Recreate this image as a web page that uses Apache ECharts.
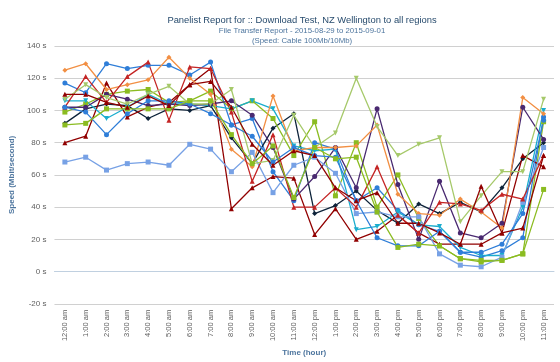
<!DOCTYPE html>
<html><head><meta charset="utf-8">
<script src="https://cdn.jsdelivr.net/npm/echarts@6/dist/echarts.min.js"></script>
<style>html,body{margin:0;padding:0;background:#fff}#c{width:560px;height:362px}</style>
</head><body><div id="c"></div>
<script>
var categories = ['12:00 am','1:00 am','2:00 am','3:00 am','4:00 am','5:00 am','6:00 am','7:00 am','8:00 am','9:00 am','10:00 am','11:00 am','12:00 pm','1:00 pm','2:00 pm','3:00 pm','4:00 pm','5:00 pm','6:00 pm','7:00 pm','8:00 pm','9:00 pm','10:00 pm','11:00 pm'];
var blueA      = [117,111,129,126,128,128,122,130,91,95,62,44,80,76,44,52,38,29,25,12,9,13,21,96];
var blackA     = [92,101,104,103,95,101,100,103,83,67,89,98,36,41,50,38,30,42,36,43,37,52,70,80];
var greenA     = [99,104,110,112,113,105,106,112,101,106,95,72,93,47,80,40,60,33,16,8,7,7,11,93];
var darkRedA   = [80,84,117,96,102,105,116,126,39,52,59,58,23,39,20,25,35,24,17,17,17,24,72,65];
var cyan       = [106,106,95,102,110,104,104,103,101,106,101,78,75,76,26,28,37,29,28,15,10,10,40,100];
var purple     = [102,102,110,107,103,104,103,104,106,97,77,45,59,77,52,101,54,20,56,24,21,30,102,82];
var orange     = [125,129,113,116,119,133,120,110,76,65,109,75,77,77,78,91,48,36,35,45,37,27,108,98];
var lightBlue  = [68,71,63,67,68,66,79,76,62,74,49,66,71,61,36,37,34,34,11,4,3,9,43,77];
var red        = [102,121,105,121,130,94,127,126,99,56,85,40,40,52,40,65,35,24,43,42,38,48,45,72];
var lightGreen = [107,116,108,104,110,115,104,104,113,67,69,97,77,86,120,90,72,79,83,31,47,62,62,107];
var blueB      = [102,99,85,98,106,106,104,98,91,84,68,77,72,71,44,21,16,16,25,12,12,17,36,94];
var greenB     = [91,92,101,101,101,101,106,106,85,67,78,46,77,70,71,37,15,17,16,8,6,7,11,51];
var darkRedB   = [110,110,105,102,109,103,116,118,102,79,66,75,72,52,44,49,30,30,24,17,53,24,27,72];
var yTicks = {min:-20, max:140, interval:20};

var defs = [
  ['blueA', blueA, '#2f7ed8', 'circle', 0],
  ['blackA', blackA, '#0d233a', 'diamond', 0],
  ['greenA', greenA, '#8bbc21', 'rect', 0],
  ['darkRedA', darkRedA, '#910000', 'triangle', 0],
  ['cyan', cyan, '#1aadce', 'triangle', 180],
  ['purple', purple, '#492970', 'circle', 0],
  ['orange', orange, '#f28f43', 'diamond', 0],
  ['lightBlue', lightBlue, '#77a1e5', 'rect', 0],
  ['red', red, '#c42525', 'triangle', 0],
  ['lightGreen', lightGreen, '#a6c96a', 'triangle', 180],
  ['blueB', blueB, '#2f7ed8', 'circle', 0],
  ['greenB', greenB, '#8bbc21', 'rect', 0],
  ['darkRedB', darkRedB, '#910000', 'triangle', 0]
];
var series = defs.map(function(d){
  return {name:d[0], type:'line', data:d[1], symbol:d[3], symbolRotate:d[4], symbolSize:5,
    showAllSymbol:true, animation:false,
    itemStyle:{color:d[2]}, lineStyle:{color:d[2], width:1.3}};
});
var chart = echarts.init(document.getElementById('c'));
chart.setOption({
  animation:false,
  title:{
    text:'Panelist Report for :: Download Test, NZ Wellington to all regions',
    subtext:'File Transfer Report - 2015-08-29 to 2015-09-01\n(Speed: Cable 100Mb/10Mb)',
    left:297, textAlign:'center', top:11, itemGap:1,
    textStyle:{fontFamily:'Liberation Sans', fontSize:9.4, fontWeight:'normal', color:'#274b6d'},
    subtextStyle:{fontFamily:'Liberation Sans', fontSize:7.8, color:'#4d759e', lineHeight:10}
  },
  grid:{left:47, right:6, top:46, bottom:45, containLabel:false},
  xAxis:{type:'category', data:categories, boundaryGap:true,
    name:'Time (hour)', nameLocation:'middle', nameGap:40,
    nameTextStyle:{fontFamily:'Liberation Sans', fontSize:8, fontWeight:'bold', color:'#4d759e'},
    axisLine:{lineStyle:{color:'#C0D0E0'}}, axisTick:{lineStyle:{color:'#C0D0E0'}, length:4},
    axisLabel:{rotate:90, fontFamily:'Liberation Sans', fontSize:7.5, color:'#606060', interval:0, margin:6}
  },
  yAxis:{type:'value', min:yTicks.min, max:yTicks.max, interval:yTicks.interval,
    name:'Speed (Mbit/second)', nameLocation:'middle', nameGap:31, nameRotate:90,
    nameTextStyle:{fontFamily:'Liberation Sans', fontSize:8, fontWeight:'bold', color:'#4d759e'},
    axisLine:{show:false}, axisTick:{show:false},
    axisLabel:{formatter:'{value} s', fontFamily:'Liberation Sans', fontSize:8, color:'#606060', margin:8},
    splitLine:{lineStyle:{color:'#d0d0d0', width:1}}
  },
  series:series
});
</script></body></html>
